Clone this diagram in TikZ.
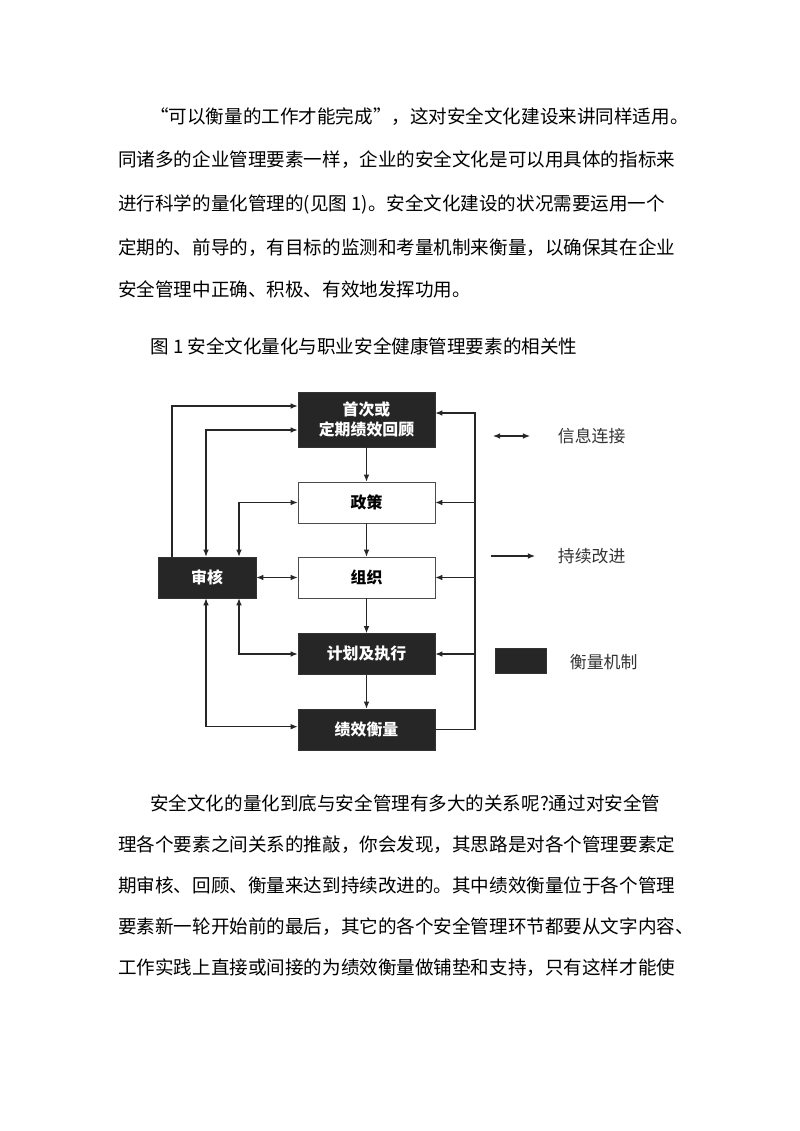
\documentclass[tikz,border=0pt]{standalone}
\usepackage{fontspec}
\setmainfont{Noto Sans CJK SC}
\usetikzlibrary{arrows.meta}
\tikzset{
  para/.style={anchor=base west, inner sep=0pt, font=\fontsize{13.2}{15}\selectfont},
  darkbox/.style={draw=black!80, fill=black!85, text=white, minimum width=3.425cm, minimum height=1.025cm, font=\fontsize{11.3}{14}\selectfont\bfseries, align=center, inner sep=1pt},
  lightbox/.style={draw=black!70, fill=white, minimum width=3.425cm, minimum height=1.025cm, font=\fontsize{11.3}{14}\selectfont\bfseries},
  flow/.style={thick, black!85, -{Latex[length=5pt,width=4pt]}},
  info/.style={thick, black!85, {Latex[length=5pt,width=4pt]}-{Latex[length=5pt,width=4pt]}},
  legtext/.style={anchor=west, font=\fontsize{12}{14}\selectfont, text=black!80}
}
\begin{document}
\begin{tikzpicture}[x=0.025cm, y=-0.025cm]
		\useasboundingbox (0,0) rectangle (800,1131);
		
		% text above
		\node[para] (t1) at (150,123) {“可以衡量的工作才能完成”，这对安全文化建设来讲同样适用。};
		\node[para] (t2) at (118,166) {同诸多的企业管理要素一样，企业的安全文化是可以用具体的指标来};
		\node[para] (t3) at (118,210) {进行科学的量化管理的(见图 1)。安全文化建设的状况需要运用一个};
		\node[para] (t4) at (118,254) {定期的、前导的，有目标的监测和考量机制来衡量，以确保其在企业};
		\node[para] (t5) at (118,296) {安全管理中正确、积极、有效地发挥功用。};
		\node[para] (cap) at (150,353) {图 1 安全文化量化与职业安全健康管理要素的相关性};
		
		% boxes
		\node[darkbox, minimum height=1.375cm] (review) at (366.5,419.5) {首次或\\定期绩效回顾};
		\node[lightbox] (policy) at (366.5,502.5) {政策};
		\node[lightbox] (organ) at (366.5,577.5) {组织};
		\node[darkbox] (plan) at (366.5,654) {计划及执行};
		\node[darkbox] (perf) at (366.5,729.5) {绩效衡量};
		\node[darkbox, minimum width=2.45cm] (audit) at (207,577.5) {审核};
		
		% helper coordinates
		\coordinate (xa) at (172,0);
		\coordinate (xb) at (206,0);
		\coordinate (xc) at (239,0);
		\coordinate (xr) at (475,0);
		\coordinate (ya) at (0,406);
		\coordinate (yb) at (0,430);
		\coordinate (yc) at (0,413);
		
		% main chain
		\draw[flow] (review) -- (policy);
		\draw[flow] (policy) -- (organ);
		\draw[flow] (organ) -- (plan);
		\draw[flow] (plan) -- (perf);
		
		% continual improvement loop
		\draw[flow] (perf.east) -| (xr |- yc) -- (review.east |- yc);
		\draw[flow] (xr |- policy) -- (policy.east);
		\draw[flow] (xr |- organ) -- (organ.east);
		\draw[flow] (xr |- plan) -- (plan.east);
		
		% audit links
		\draw[flow] (audit.north -| xa) |- (review.west |- ya);
		\draw[info] (audit.north -| xb) |- (review.west |- yb);
		\draw[info] (audit.north -| xc) |- (policy.west);
		\draw[info] (audit.east) -- (organ.west);
		\draw[info] (audit.south -| xc) |- (plan.west);
		\draw[info] (audit.south -| xb) |- ([yshift=2pt]perf.west);
		
		% legend
		\coordinate (la1) at (493,436);
		\coordinate (la2) at (530,436);
		\coordinate (lb1) at (491,556);
		\coordinate (lb2) at (535,556);
		\draw[info] (la1) -- (la2);
		\draw[flow] (lb1) -- (lb2);
		\node[legtext] (linfo) at (553,436) {信息连接};
		\node[legtext] (limpr) at (553,556) {持续改进};
		\node[draw=black!80, fill=black!85, minimum width=1.275cm, minimum height=0.625cm, inner sep=0pt] (lbox) at (520.5,660.5) {};
		\node[legtext] (lmeas) at (565,662) {衡量机制};
		
		% text below
		\node[para] (b1) at (150,810) {安全文化的量化到底与安全管理有多大的关系呢?通过对安全管};
		\node[para] (b2) at (118,851) {理各个要素之间关系的推敲，你会发现，其思路是对各个管理要素定};
		\node[para] (b3) at (118,892) {期审核、回顾、衡量来达到持续改进的。其中绩效衡量位于各个管理};
		\node[para] (b4) at (118,933) {要素新一轮开始前的最后，其它的各个安全管理环节都要从文字内容、};
		\node[para] (b5) at (118,974) {工作实践上直接或间接的为绩效衡量做铺垫和支持，只有这样才能使};
		
\end{tikzpicture}
\end{document}
